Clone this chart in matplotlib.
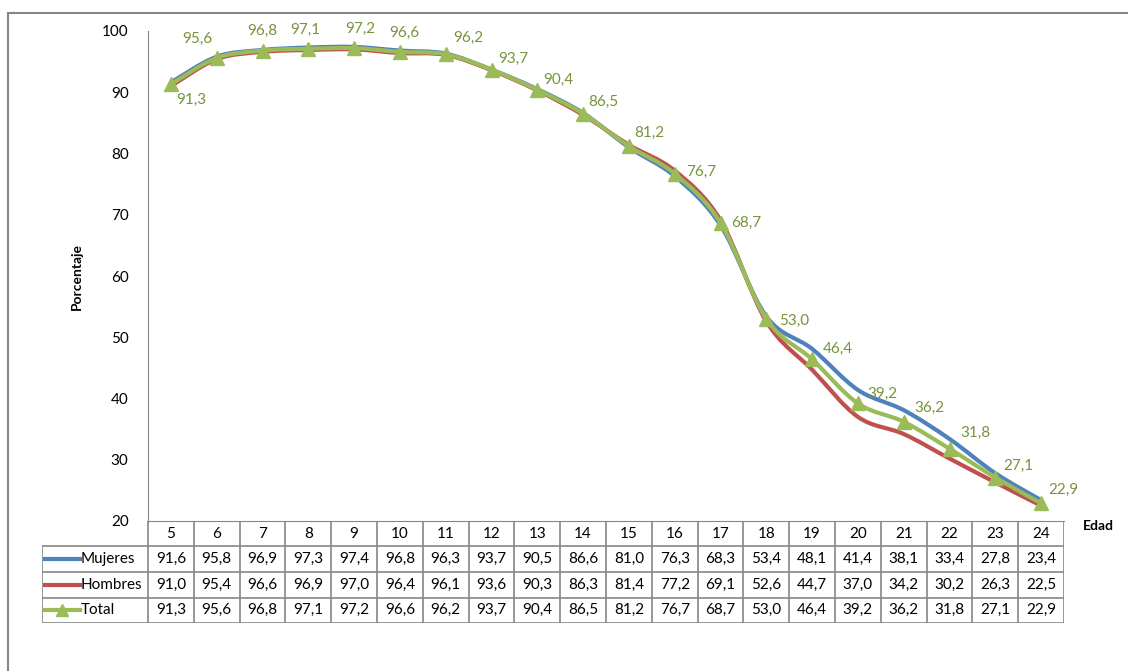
import numpy as np
import matplotlib.pyplot as plt
from matplotlib.path import Path
from matplotlib.patches import PathPatch
from matplotlib.lines import Line2D

plt.rcParams['font.family'] = ['Lato', 'DejaVu Sans']

edades = [5, 6, 7, 8, 9, 10, 11, 12, 13, 14, 15, 16, 17, 18, 19, 20, 21, 22, 23, 24]
mujeres = [91.6, 95.8, 96.9, 97.3, 97.4, 96.8, 96.3, 93.7, 90.5, 86.6, 81.0, 76.3,
           68.3, 53.4, 48.1, 41.4, 38.1, 33.4, 27.8, 23.4]
hombres = [91.0, 95.4, 96.6, 96.9, 97.0, 96.4, 96.1, 93.6, 90.3, 86.3, 81.4, 77.2,
           69.1, 52.6, 44.7, 37.0, 34.2, 30.2, 26.3, 22.5]
total = [91.3, 95.6, 96.8, 97.1, 97.2, 96.6, 96.2, 93.7, 90.4, 86.5, 81.2, 76.7,
         68.7, 53.0, 46.4, 39.2, 36.2, 31.8, 27.1, 22.9]

# label offsets in pixels (layout only)
label_off = [(20, -16), (-19, 19), (0, 20), (-3, 19), (6, 19), (4, 19), (23, 16),
             (22, 11), (21, 10), (20, 12), (20, 13), (26, 2), (26, 0), (28, -2),
             (26, 10), (25, 10), (26, 14), (26, 16), (23, 12), (22, 13)]

BLUE = '#4F81BD'
RED = '#C0504D'
GREEN = '#9BBB59'
LABEL_GREEN = '#77933C'
GRID_GRAY = '#868686'
FS = 11

W, H = 1128, 671
fig = plt.figure(figsize=(W / 100, H / 100), dpi=100)


def fx(px):
    return px / W


def fy(py):
    return 1 - py / H


ax = fig.add_axes([fx(148), fy(521), fx(1064) - fx(148), fy(31) - fy(521)])


def smooth_path(x, y):
    # Excel-like smooth line: cubic bezier through the points
    x = np.asarray(x, float)
    y = np.asarray(y, float)
    pts = np.column_stack([x, y])
    n = len(pts)
    verts = [pts[0]]
    codes = [Path.MOVETO]
    for i in range(n - 1):
        p0 = pts[i - 1] if i > 0 else pts[i]
        p1 = pts[i]
        p2 = pts[i + 1]
        p3 = pts[i + 2] if i + 2 < n else pts[i + 1]
        c1 = p1 + (p2 - p0) / 6
        c2 = p2 - (p3 - p1) / 6
        verts += [c1, c2, p2]
        codes += [Path.CURVE4] * 3
    return Path(verts, codes)


for series, col in [(mujeres, BLUE), (hombres, RED), (total, GREEN)]:
    ax.add_patch(PathPatch(smooth_path(edades, series), facecolor='none',
                           edgecolor=col, lw=3, capstyle='butt', joinstyle='round'))

ax.plot(edades, total, ls='none', marker='^', ms=10, color=GREEN, zorder=5)

for x, v, (dx, dy) in zip(edades, total, label_off):
    ax.annotate(f'{v:.1f}'.replace('.', ','), (x, v), xytext=(dx, dy),
                textcoords='offset pixels', ha='center', va='center',
                color=LABEL_GREEN, fontsize=FS)

ax.set_xlim(4.5, 24.5)
ax.set_ylim(20, 100)
ax.set_yticks(range(20, 101, 10))
ax.tick_params(axis='y', length=0, pad=14, labelsize=FS)
ax.set_xticks([])
for s in ['top', 'right']:
    ax.spines[s].set_visible(False)
ax.spines['left'].set_color(GRID_GRAY)
ax.spines['bottom'].set_color(GRID_GRAY)
ax.set_ylabel('Porcentaje', fontweight='bold', fontsize=10, labelpad=14)
fig.text(fx(1098), fy(526), 'Edad', fontweight='bold', fontsize=10,
         ha='center', va='center')

# data table under the axis
col_w = 45.8
lab_w = (148 - 42) / col_w
tx = fig.add_axes([fx(42), fy(623), fx(1064) - fx(42), fy(521) - fy(623)])
tx.set_xlim(4.5 - lab_w, 24.5)
tx.set_ylim(0, 4)
tx.axis('off')
row_bounds = [4, 3.02, 2.0, 1.0, 0]
lc = dict(color=GRID_GRAY, lw=1.2)
# horizontal lines
tx.plot([4.5, 24.5], [4, 4], **lc)
for yb in row_bounds[1:]:
    tx.plot([4.5 - lab_w, 24.5], [yb, yb], **lc)
# vertical lines
for xb in np.arange(4.5, 24.6, 1.0):
    tx.plot([xb, xb], [0, 4], **lc)
tx.plot([4.5 - lab_w] * 2, [0, row_bounds[1]], **lc)

for x in edades:
    tx.text(x, 3.5, str(x), ha='center', va='center', fontsize=FS)

rows = [('Mujeres', mujeres, BLUE, None), ('Hombres', hombres, RED, None),
        ('Total', total, GREEN, '^')]
for i, (name, vals, col, mk) in enumerate(rows):
    yc = (row_bounds[i + 1] + row_bounds[i + 2]) / 2
    x0 = 4.5 - lab_w + 0.07
    tx.add_line(Line2D([x0, x0 + 0.75], [yc, yc], color=col, lw=3))
    if mk:
        tx.plot([x0 + 0.375], [yc], marker=mk, ms=9, color=col)
    tx.text(x0 + 0.77, yc, name, ha='left', va='center', fontsize=FS)
    for x, v in zip(edades, vals):
        tx.text(x, yc, f'{v:.1f}'.replace('.', ','), ha='center', va='center',
                fontsize=FS)

# outer chart border
fig.add_artist(Line2D([fx(8), 1], [fy(13), fy(13)], color=GRID_GRAY, lw=1.5))
fig.add_artist(Line2D([fx(8), fx(8)], [fy(13), 0], color=GRID_GRAY, lw=1.5))

fig.savefig('out.png', dpi=100)
